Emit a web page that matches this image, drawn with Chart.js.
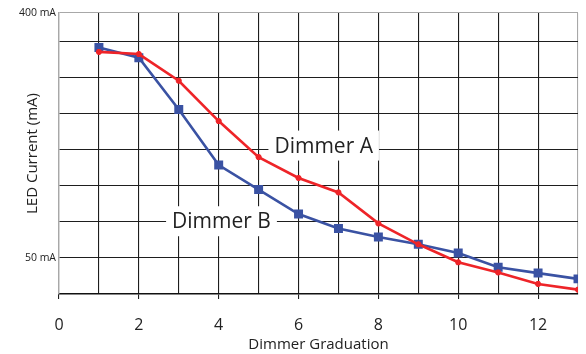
<!DOCTYPE html>
<html lang="en">
<head>
<meta charset="UTF-8">
<title>LED Current vs Dimmer Graduation</title>
<script src="https://cdn.jsdelivr.net/npm/chart.js"></script>
<style>
  html, body { margin: 0; padding: 0; background: #fff; }
  #wrap { position: relative; width: 586px; height: 354px; }
</style>
</head>
<body>
<div id="wrap"><canvas id="grafico"></canvas></div>
<script>
// graduation steps on the dimmer
const graduacoes = [1, 2, 3, 4, 5, 6, 7, 8, 9, 10, 11, 12, 13];
// LED current in mA
const dimmerA = [336, 333, 296, 240, 190, 161, 141, 98, 69, 44, 30, 14, 6];
const dimmerB = [342, 328, 256, 179, 145, 111, 91, 79, 69, 57, 37, 29, 21];
// y axis ticks (grid every 50 mA, top of frame labelled 400 mA)
const yTicks = [0, 50, 100, 150, 200, 250, 300, 350, 390];
const yLabels = { 50: '50 mA', 390: '400 mA' };
// where the series names sit (data units)
const rotulos = [
  { texto: 'Dimmer A', x: 6.63, y: 206 },
  { texto: 'Dimmer B', x: 4.07, y: 101 }
];

const fonte = '"Open Sans", "DejaVu Sans", sans-serif';
const linhaGrade = '#1e1e1e';
const borda = '#a8a8a8';

// draws the series names on a white box that cuts the grid
const pluginRotulos = {
  id: 'rotulos',
  afterDatasetsDraw(chart) {
    const ctx = chart.ctx;
    const xs = chart.scales.x, ys = chart.scales.y;
    ctx.save();
    ctx.font = '21px ' + fonte;
    ctx.textAlign = 'center';
    ctx.textBaseline = 'middle';
    rotulos.forEach(function (r) {
      const px = xs.getPixelForValue(r.x);
      const py = ys.getPixelForValue(r.y);
      const w = ctx.measureText(r.texto).width + 12;
      ctx.fillStyle = '#fff';
      ctx.fillRect(px - w / 2, py - 15, w, 30);
      ctx.fillStyle = '#222';
      ctx.fillText(r.texto, px, py + 1);
    });
    ctx.restore();
  }
};

new Chart(document.getElementById('grafico'), {
  type: 'line',
  data: {
    datasets: [
      {
        label: 'Dimmer A',
        data: graduacoes.map((g, i) => ({ x: g, y: dimmerA[i] })),
        borderColor: '#ee2428',
        backgroundColor: '#ee2428',
        borderWidth: 2.6,
        pointStyle: 'star',
        pointRadius: 3,
        pointBorderWidth: 2,
        tension: 0
      },
      {
        label: 'Dimmer B',
        data: graduacoes.map((g, i) => ({ x: g, y: dimmerB[i] })),
        borderColor: '#3a52a3',
        backgroundColor: '#3a52a3',
        borderWidth: 2.6,
        pointStyle: 'rect',
        pointRadius: 4.5,
        tension: 0
      }
    ]
  },
  options: {
    responsive: true,
    maintainAspectRatio: false,
    animation: false,
    layout: { padding: { top: 13, right: 8, left: 0, bottom: 0 } },
    plugins: {
      legend: { display: false },
      tooltip: { enabled: false }
    },
    scales: {
      x: {
        type: 'linear',
        min: 0,
        max: 13,
        afterFit: function (s) {
          s.height = 60;
          s.paddingLeft = 0;
          s.paddingRight = 0;
        },
        ticks: {
          stepSize: 1,
          autoSkip: false,
          maxRotation: 0,
          padding: 17,
          color: '#222',
          font: { family: fonte, size: 16 },
          callback: v => (v % 2 === 0 && v < 13) ? String(v) : ''
        },
        grid: {
          color: ctx => (ctx.tick && (ctx.tick.value === 0 || ctx.tick.value === 13)) ? borda : linhaGrade,
          lineWidth: 1.1,
          tickLength: 5,
          tickColor: ctx => (ctx.tick && ctx.tick.value % 2 === 0) ? linhaGrade : 'rgba(0,0,0,0)'
        },
        border: { color: '#111', width: 1.4 },
        title: {
          display: true,
          text: 'Dimmer Graduation',
          color: '#222',
          font: { family: fonte, size: 15 },
          padding: { top: 0, bottom: 0 }
        }
      },
      y: {
        min: 0,
        max: 390,
        afterFit: function (s) { s.width = 59; },
        afterBuildTicks: function (s) { s.ticks = yTicks.map(v => ({ value: v })); },
        ticks: {
          padding: 3,
          color: '#222',
          font: { family: fonte, size: 10.5 },
          callback: v => yLabels[v] || ''
        },
        grid: {
          color: ctx => (ctx.tick && ctx.tick.value === 390) ? borda : linhaGrade,
          lineWidth: 1.1,
          drawTicks: false
        },
        border: { color: borda, width: 1.4 },
        title: {
          display: true,
          text: 'LED Current (mA)',
          color: '#222',
          font: { family: fonte, size: 15 },
          padding: { top: 24, bottom: 0 }
        }
      }
    }
  },
  plugins: [pluginRotulos]
});
</script>
</body>
</html>
